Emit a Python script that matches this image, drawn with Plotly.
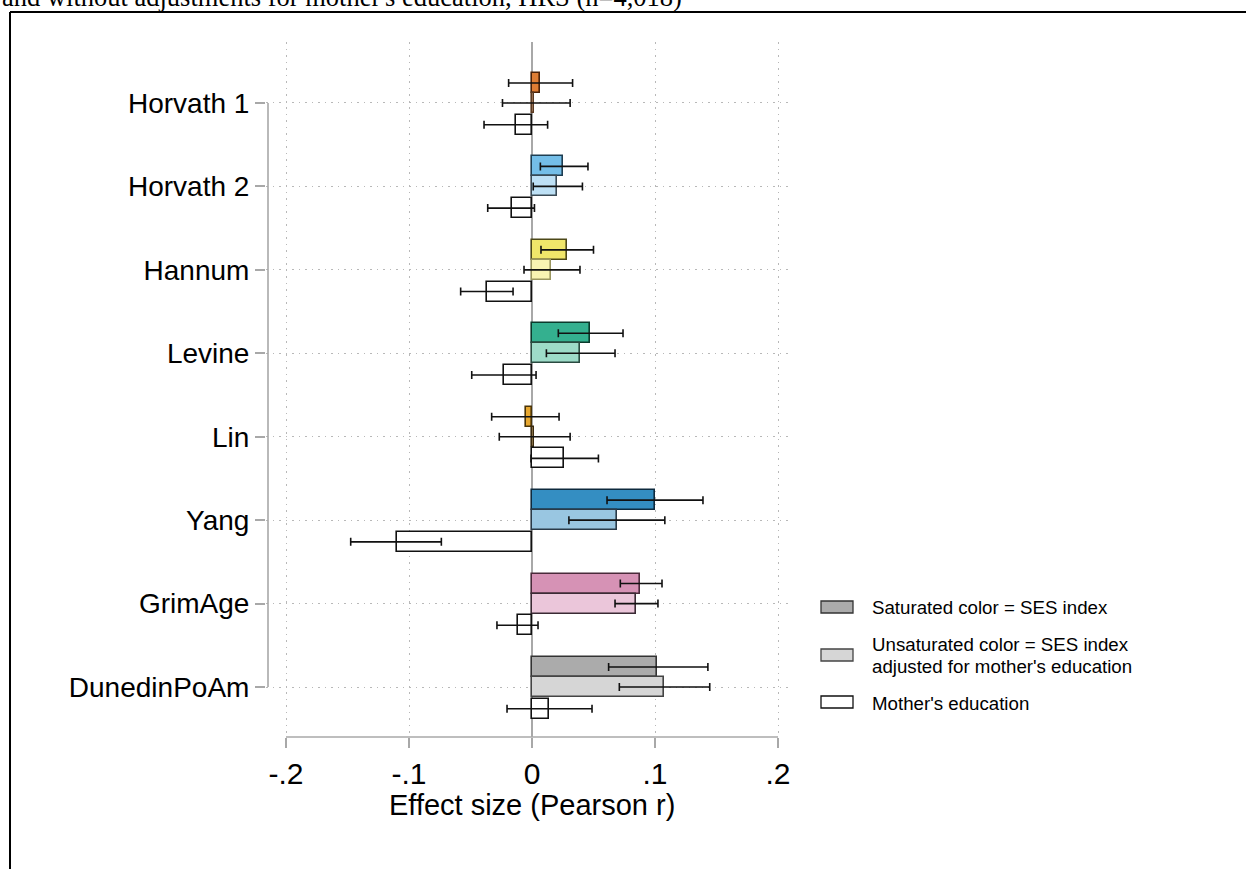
import plotly.graph_objects as go

categories = ["Horvath 1", "Horvath 2", "Hannum", "Levine", "Lin", "Yang", "GrimAge", "DunedinPoAm"]

ses = [0.0065, 0.0255, 0.0287, 0.0474, -0.0051, 0.100, 0.088, 0.102]
ses_lo = [-0.019, 0.0068, 0.0073, 0.0214, -0.0328, 0.061, 0.0718, 0.0623]
ses_hi = [0.033, 0.0455, 0.050, 0.074, 0.022, 0.139, 0.1057, 0.143]

adj = [0.002, 0.0203, 0.0157, 0.0393, 0.0016, 0.0688, 0.0846, 0.107]
adj_lo = [-0.024, 0.001, -0.0065, 0.0117, -0.0266, 0.030, 0.0675, 0.071]
adj_hi = [0.031, 0.041, 0.039, 0.0675, 0.031, 0.108, 0.1024, 0.1445]

mom = [-0.0127, -0.0165, -0.0363, -0.0225, 0.026, -0.110, -0.011, 0.0138]
mom_lo = [-0.039, -0.036, -0.058, -0.049, -0.0008, -0.1474, -0.0285, -0.0203]
mom_hi = [0.0127, 0.002, -0.0154, 0.0033, 0.054, -0.0737, 0.0049, 0.0488]

x_ticks = [-0.2, -0.1, 0, 0.1, 0.2]
x_ticktext = ["-.2", "-.1", "0", ".1", ".2"]

sat_colors = ["#DE7D34", "#74BEE8", "#F0E66A", "#34B08F", "#E8A830", "#348EC2", "#D692B5", "#ABABAB"]
sat_edges = ["#4A2208", "#1E3E52", "#4C4818", "#0A3A2C", "#4A3408", "#0E2A3E", "#4A2A3A", "#333333"]
adj_colors = ["#EEBE9A", "#BDE0F5", "#F8F3B2", "#9DDBC8", "#F3D596", "#99C6E1", "#EBC6DA", "#D6D6D6"]
adj_edges = ["#5A3A22", "#3A4A55", "#9A9660", "#2A4A40", "#3A2A10", "#2A3A48", "#3A2A34", "#444444"]

pos = list(range(1, len(categories) + 1))
OFF_SAT, OFF_ADJ, OFF_MOM, BW = -0.24, 0.0, 0.26, 0.24

def err(vals, lo, hi):
    return dict(type="data", symmetric=False,
                array=[h - v for v, h in zip(vals, hi)],
                arrayminus=[v - l for v, l in zip(vals, lo)],
                color="#111111", thickness=1.6, width=4)

fig = go.Figure()
fig.add_trace(go.Bar(
    y=[p + OFF_SAT for p in pos], x=ses, orientation="h", width=BW, base=0,
    marker=dict(color=sat_colors, line=dict(color=sat_edges, width=1.6)),
    error_x=err(ses, ses_lo, ses_hi), name="Saturated color = SES index", showlegend=False))
fig.add_trace(go.Bar(
    y=[p + OFF_ADJ for p in pos], x=adj, orientation="h", width=BW, base=0,
    marker=dict(color=adj_colors, line=dict(color=adj_edges, width=1.6)),
    error_x=err(adj, adj_lo, adj_hi), name="Unsaturated color", showlegend=False))
fig.add_trace(go.Bar(
    y=[p + OFF_MOM for p in pos], x=mom, orientation="h", width=BW, base=0,
    marker=dict(color="white", line=dict(color="#111111", width=1.6)),
    error_x=err(mom, mom_lo, mom_hi), name="Mother's education", showlegend=False))

L, R, T, B = 266, 790, 42, 737
W, H = 1246, 869
pw, ph = R - L, B - T
px = lambda x: (x - L) / pw
py = lambda y: (B - y) / ph

gray = "#A8A8A8"
shapes = []
shapes.append(dict(type="line", xref="paper", yref="y", x0=px(268), x1=px(268), y0=pos[0], y1=pos[-1],
                   line=dict(color=gray, width=1.6)))
shapes.append(dict(type="line", xref="x", yref="paper", x0=x_ticks[0], x1=x_ticks[-1], y0=0, y1=0,
                   line=dict(color=gray, width=1.6)))
shapes.append(dict(type="line", xref="paper", yref="paper", x0=px(10), x1=px(1260), y0=py(12), y1=py(12),
                   line=dict(color="black", width=2)))
shapes.append(dict(type="line", xref="paper", yref="paper", x0=px(10), x1=px(10), y0=py(12), y1=py(900),
                   line=dict(color="black", width=2)))

leg_fill = ["#ABABAB", "#D6D6D6", "white"]
leg_edge = ["#333333", "#444444", "#111111"]
leg_box_y = [(601, 613), (649, 661), (696, 708)]
for f, e, (ya, yb) in zip(leg_fill, leg_edge, leg_box_y):
    shapes.append(dict(type="rect", xref="paper", yref="paper", x0=px(821), x1=px(853), y0=py(yb), y1=py(ya),
                       fillcolor=f, line=dict(color=e, width=1.3)))

annotations = []
leg_text = ["Saturated color = SES index",
            "Unsaturated color = SES index",
            "adjusted for mother's education",
            "Mother's education"]
leg_text_y = [607, 644, 666, 703]
for t, yy in zip(leg_text, leg_text_y):
    annotations.append(dict(text=t, xref="paper", yref="paper", x=px(870), y=py(yy), xanchor="left",
                            yanchor="middle", align="left", showarrow=False,
                            font=dict(family="Liberation Sans, Arial", size=18.7, color="black")))
annotations.append(dict(text="Effect size (Pearson r)", xref="x", yref="paper", x=0, y=py(805),
                        xanchor="center", yanchor="middle", showarrow=False,
                        font=dict(family="Liberation Sans, Arial", size=29, color="black")))
annotations.append(dict(text="and without adjustments for mother's education, HRS (n=4,018)",
                        xref="paper", yref="paper", x=px(0), y=py(14), xanchor="left", yanchor="bottom",
                        showarrow=False, font=dict(family="Liberation Serif, Times New Roman", size=26.5, color="black")))

fig.update_layout(
    width=W, height=H,
    margin=dict(l=L, r=W - R, t=T, b=H - B, pad=0),
    plot_bgcolor="white", paper_bgcolor="white",
    barmode="overlay", bargap=0,
    shapes=shapes, annotations=annotations,
    font=dict(family="Liberation Sans, Arial", color="black"),
)
fig.update_xaxes(
    range=[(L - 532) / 1230, (R - 532) / 1230],
    tickvals=x_ticks, ticktext=x_ticktext,
    ticks="outside", ticklen=10, tickwidth=1.6, tickcolor=gray,
    tickfont=dict(size=30, color="black"),
    showline=False, showgrid=True, gridcolor="#B8B8B8", griddash="1.5px,5px", gridwidth=1.2,
    zeroline=True, zerolinecolor=gray, zerolinewidth=1.6,
)
fig.update_yaxes(
    range=[8.599, 0.269],
    tickvals=pos, ticktext=categories,
    ticks="outside", ticklen=10, tickwidth=1.6, tickcolor=gray,
    tickfont=dict(size=28, color="black"),
    showline=False, showgrid=True, gridcolor="#B8B8B8", griddash="1.5px,5px", gridwidth=1.2,
    zeroline=False,
)

fig.write_html("out.html", config={"displayModeBar": False},
               post_script="document.body.style.margin='0';document.body.style.overflow='hidden';")
